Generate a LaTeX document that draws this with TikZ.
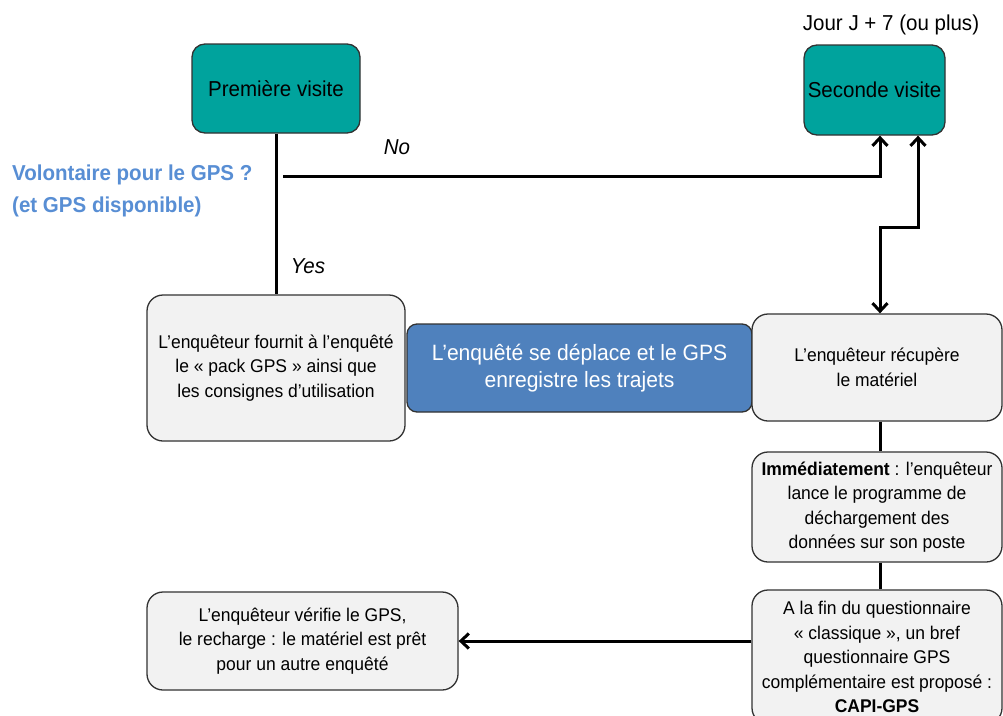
\documentclass[tikz,border=0pt]{standalone}
\usepackage{fontspec}
\setmainfont[FakeStretch=0.95]{Liberation Sans}
\usetikzlibrary{arrows.meta}
\definecolor{teal1}{RGB}{0,163,157}
\definecolor{bluebox}{RGB}{79,129,189}
\definecolor{bluetext}{RGB}{88,142,212}
\definecolor{grayfill}{RGB}{242,242,242}
\definecolor{border}{RGB}{50,50,50}
\tikzset{
  base/.style={draw=border, line width=1.3pt, inner sep=0pt, align=center},
  tealbox/.style={base, fill=teal1, rounded corners=13pt, font=\fontsize{21.6}{26}\selectfont},
  graybox/.style={base, fill=grayfill, rounded corners=16pt, font=\fontsize{18.4}{24.5}\selectfont},
  midbox/.style={base, fill=bluebox, rounded corners=10pt, text=white, font=\fontsize{22.2}{27}\selectfont},
  conn/.style={line width=3pt},
  arr/.style={conn, -{Straight Barb[length=8pt,width=15pt,line width=3pt]}},
  darr/.style={conn, {Straight Barb[length=8pt,width=15pt,line width=3pt]}-{Straight Barb[length=8pt,width=15pt,line width=3pt]}},
  lbl/.style={inner sep=0pt, font=\fontsize{21.6}{26}\selectfont\itshape},
}
\begin{document}
\begin{tikzpicture}[x=1pt,y=-1pt]
\useasboundingbox (0,0) rectangle (1003,715);
\fill[white] (0,0) rectangle (1003,715);
\begin{scope}
\clip (0,0) rectangle (1003,715);
\node[tealbox, minimum width=168pt, minimum height=89pt] (pv) at (276,88.5) {Première visite};
\node[tealbox, minimum width=141pt, minimum height=90pt] (sv) at (874.5,90) {Seconde visite};
\node[inner sep=0pt, font=\fontsize{21.6}{26}\selectfont] (jour) at (891,25) {Jour J + 7 (ou plus)};
\node[inner sep=0pt, anchor=west, align=left, text=bluetext, font=\fontsize{21.6}{32}\selectfont\bfseries] (vol) at (12,191) {Volontaire pour le GPS ?\\(et GPS disponible)};
\node[lbl] (no) at (397,147) {No};
\node[lbl] (yes) at (308,266) {Yes};
\node[graybox, minimum width=258pt, minimum height=146pt] (fournit) at (276,368) {L’enquêteur fournit à l’enquêté\\le «~pack GPS~» ainsi que\\les consignes d’utilisation};
\node[midbox, minimum width=345pt, minimum height=88pt] (depl) at (579.5,368) {L’enquêté se déplace et le GPS\\enregistre les trajets};
\node[graybox, minimum width=250pt, minimum height=107pt] (recup) at (877,367.5) {L’enquêteur récupère\\le matériel};
\node[graybox, minimum width=250pt, minimum height=110pt] (immed) at (877,507) {\textbf{Immédiatement} : l’enquêteur\\lance le programme de\\déchargement des\\données sur son poste};
\node[graybox, minimum width=250pt, minimum height=134pt] (capi) at (877,657) {A la fin du questionnaire\\«~classique~», un bref\\questionnaire GPS\\complémentaire est proposé :\\\textbf{CAPI-GPS}};
\node[graybox, minimum width=311pt, minimum height=98pt] (verif) at (302.5,641) {L’enquêteur vérifie le GPS,\\le recharge : le matériel est prêt\\pour un autre enquêté};
\coordinate (nostart) at (283,176);
\coordinate (nocorner) at (880,176);
\coordinate (j1) at (880,227);
\coordinate (j2) at (918,227);
\draw[conn] (pv.south) -- (fournit.north);
\draw[arr] (nostart) -- (nocorner) -- (nocorner |- sv.south);
\draw[darr] (recup.north -| j1) -- (j1) -- (j2) -- (j2 |- sv.south);
\draw[conn] (recup.south -| j1) -- (immed.north -| j1);
\draw[conn] (immed.south -| j1) -- (capi.north -| j1);
\draw[arr] (capi.west |- verif.east) -- (verif.east);
\end{scope}
\end{tikzpicture}
\end{document}
